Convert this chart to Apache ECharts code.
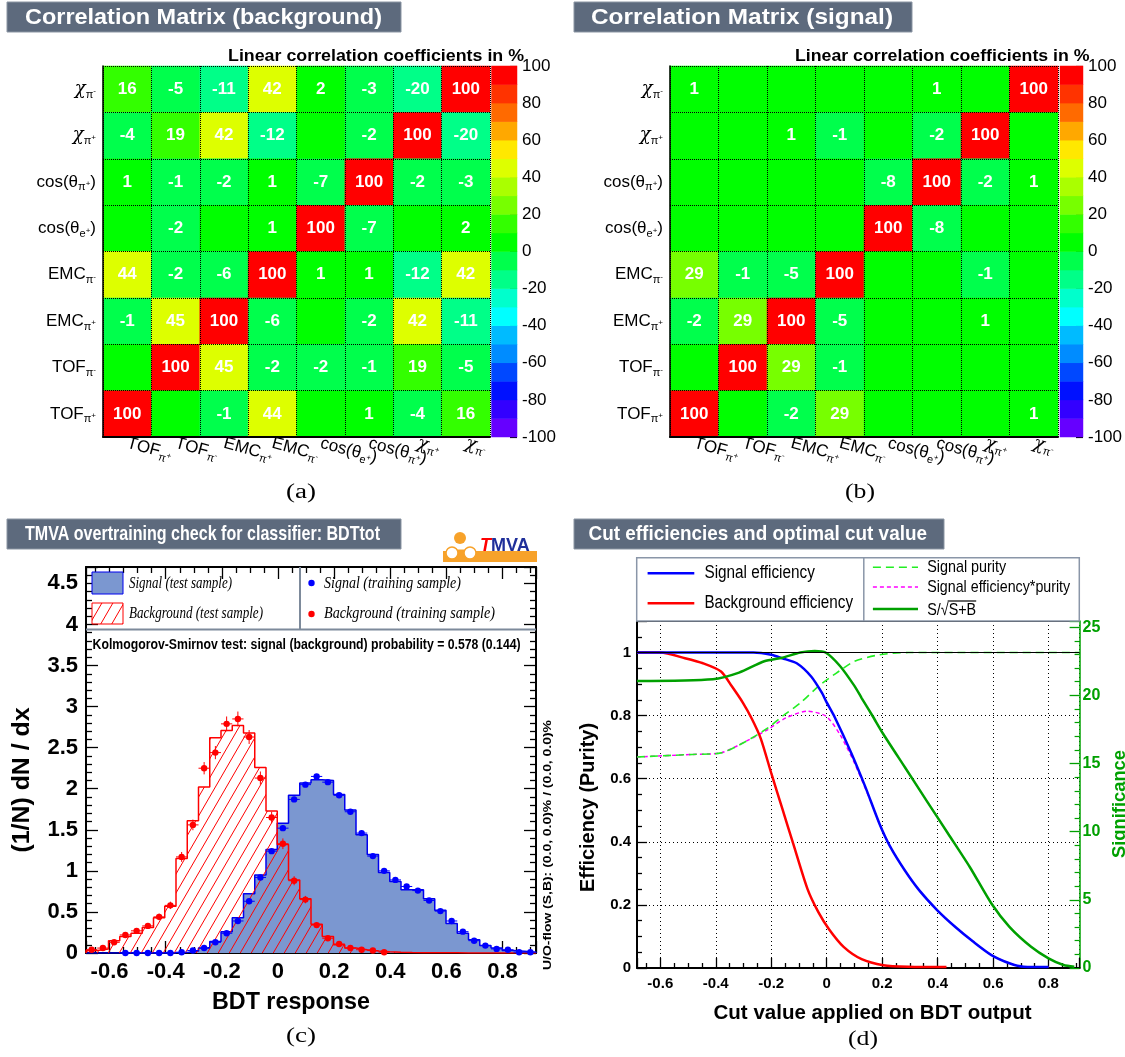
<!DOCTYPE html>
<html><head><meta charset="utf-8">
<script src="https://cdn.jsdelivr.net/npm/echarts@6/dist/echarts.min.js"></script>
<style>html,body{margin:0;padding:0;background:#fff}#c{width:1125px;height:1057px}</style>
</head><body><div id="c"></div>
<script>
// ================= DATA =================
// correlation matrices: variables in axis order (x left->right, y bottom->top)
const corrVars = ['TOF_π+','TOF_π-','EMC_π+','EMC_π-','cos(θ_e+)','cos(θ_π+)','χ_π+','χ_π-'];
// rows listed from top (χπ-) to bottom (TOFπ+), columns in corrVars order
const corrBkg = [
  [16,-5,-11,42,2,-3,-20,100],
  [-4,19,42,-12,0,-2,100,-20],
  [1,-1,-2,1,-7,100,-2,-3],
  [0,-2,0,1,100,-7,0,2],
  [44,-2,-6,100,1,1,-12,42],
  [-1,45,100,-6,0,-2,42,-11],
  [0,100,45,-2,-2,-1,19,-5],
  [100,0,-1,44,0,1,-4,16]
];
const corrSig = [
  [1,0,0,0,0,1,0,100],
  [0,0,1,-1,0,-2,100,0],
  [0,0,0,0,-8,100,-2,1],
  [0,0,0,0,100,-8,0,0],
  [29,-1,-5,100,0,0,-1,0],
  [-2,29,100,-5,0,0,1,0],
  [0,100,29,-1,0,0,0,0],
  [100,0,-2,29,0,0,0,1]
];
const corrLevels = [-100,-90,-80,-70,-60,-50,-40,-30,-20,-10,0,10,20,30,40,50,60,70,80,90,100];
const corrPalette = ['#6600ff','#3300ff','#0011ff','#0048ff','#008cff','#00bbff','#00ffff','#00ffcc','#00ff88','#00ff4c',
                     '#00ff00','#33ff00','#77ff00','#aaff00','#ddff00','#ffe800','#ffa800','#ff6a00','#ff3300','#ff0000'];

// BDT response histograms (40 bins)
const bdtBinLow = -0.684;
const bdtBinWidth = 0.04008;
const sigTest = [0,0,0,0.002,0.002,0.002,0.003,0.004,0.006,0.025,
                 0.06,0.14,0.26,0.43,0.72,0.95,1.26,1.58,1.92,2.07,
                 2.11,2.10,1.93,1.74,1.44,1.20,0.98,0.87,0.77,0.77,
                 0.66,0.52,0.36,0.24,0.16,0.09,0.06,0.03,0.02,0.01];
const bkgTest = [0.03,0.05,0.15,0.20,0.24,0.31,0.43,0.57,1.15,1.61,
                 2.02,2.62,2.71,2.77,2.68,2.26,1.73,1.32,0.89,0.66,
                 0.35,0.20,0.10,0.06,0.04,0.025,0.015,0.01,0.006,0.004,
                 0.003,0.002,0.002,0.001,0.001,0,0,0,0,0];
const sigTrain = [null,null,null,0,0,0,0,0,0.01,0.03,
                  0.06,0.13,0.24,0.39,0.63,0.92,1.24,1.52,1.87,2.05,
                  2.15,2.08,1.92,1.72,1.46,1.18,1.00,0.89,0.81,0.76,
                  0.64,0.51,0.39,0.26,0.15,0.09,0.05,0.04,0.01,0.01];
const sigTrainErr = [0,0,0,0,0,0,0,0,0.005,0.008,
                     0.01,0.012,0.015,0.02,0.02,0.025,0.03,0.03,0.03,0.03,
                     0.03,0.03,0.03,0.03,0.03,0.025,0.025,0.02,0.02,0.02,
                     0.02,0.02,0.015,0.015,0.01,0.01,0.008,0.008,0.005,0.005];
const bkgTrain = [0.04,0.06,0.13,0.22,0.27,0.33,0.44,0.58,1.17,1.56,
                  2.25,2.44,2.79,2.85,2.63,2.13,1.65,1.33,0.88,0.65,
                  0.34,0.18,0.11,0.06,0.04,0.03,0.01,null,null,null,
                  null,null,null,null,null,null,null,null,null,null];
const bkgTrainErr = [0.015,0.02,0.025,0.03,0.03,0.035,0.04,0.045,0.06,0.065,
                     0.075,0.08,0.09,0.09,0.085,0.08,0.07,0.065,0.055,0.045,
                     0.035,0.025,0.02,0.015,0.012,0.01,0.008,0,0,0,
                     0,0,0,0,0,0,0,0,0,0];

// cut efficiencies [cut value, value]
const sigEff = [[-0.684,1],[-0.3,1],[-0.264,1.0],[-0.2,0.993],[-0.16,0.982],[-0.108,0.966],[-0.056,0.924],[-0.017,0.872],
  [-0.002,0.845],[0.029,0.795],[0.087,0.685],[0.139,0.575],[0.191,0.456],[0.230,0.383],[0.282,0.309],[0.334,0.246],
  [0.399,0.183],[0.464,0.130],[0.529,0.083],[0.594,0.041],[0.659,0.015],[0.71,0.004],[0.80,0.003]];
const bkgEff = [[-0.684,1],[-0.6,1.0],[-0.511,0.982],[-0.446,0.966],[-0.381,0.94],[-0.342,0.893],[-0.303,0.842],
  [-0.27,0.79],[-0.238,0.728],[-0.199,0.615],[-0.160,0.505],[-0.121,0.395],[-0.069,0.25],[-0.030,0.177],
  [0.009,0.122],[0.061,0.067],[0.126,0.028],[0.204,0.009],[0.295,0.004],[0.432,0.003]];
const sigPurity = [[-0.684,0.669],[-0.485,0.677],[-0.381,0.682],[-0.29,0.719],[-0.212,0.761],[-0.16,0.798],
  [-0.095,0.840],[-0.030,0.893],[0.035,0.935],[0.100,0.972],[0.191,0.993],[0.295,1.0],[0.912,1.0]];
const sigEffPurity = [[-0.684,0.669],[-0.485,0.677],[-0.381,0.682],[-0.29,0.719],[-0.212,0.756],[-0.147,0.793],
  [-0.069,0.814],[-0.002,0.798],[0.048,0.740],[0.100,0.650],[0.165,0.515],[0.191,0.455],[0.230,0.383],
  [0.282,0.309],[0.334,0.246],[0.399,0.183],[0.464,0.130],[0.529,0.083],[0.594,0.041],[0.659,0.015],[0.71,0.004],[0.80,0.003]];
const significance = [[-0.684,21.05],[-0.41,21.18],[-0.316,21.66],[-0.225,22.5],[-0.16,22.76],[-0.095,23.14],
  [-0.043,23.25],[-0.004,23.14],[0.048,22.15],[0.100,20.69],[0.126,19.8],[0.165,18.5],[0.204,17.16],[0.282,14.72],
  [0.360,12.28],[0.438,9.85],[0.516,7.41],[0.594,4.73],[0.659,3.02],[0.737,1.56],[0.80,0.71],[0.854,0.22],[0.893,0.1]];

// ================= STYLE / HELPERS =================
const SANS = '"Liberation Sans", Arial, Helvetica, sans-serif';
const SERIF = '"Liberation Serif", "Times New Roman", serif';
const mctx = document.createElement('canvas').getContext('2d');
function measure(text, font){ mctx.font = font; return mctx.measureText(text).width; }
function fitText(text, x, y, width, font, o){
  o = o || {};
  const s = width / measure(text, font);
  return {type:'text', x:x, y:y, scaleX:s, rotation:o.rotation||0, z:100,
    style:{text:text, font:font, fill:o.fill||'#000', align:o.align||'left', verticalAlign:'middle',
           textAlign:o.align||'left', textVerticalAlign:'middle'}};
}
function richVar(name){
  const m = name.match(/^(.*)_(.)([+-])(\)?)$/);
  if(!m) return name;
  const base = m[1] === 'χ' ? '{g|χ}' : '{b|'+m[1]+'}';
  return base + '{s|'+m[2]+'}{p|'+m[3]+'}' + (m[4] ? '{b|'+m[4]+'}' : '');
}
const varRich = {
  b:{fontSize:17, fontFamily:SANS, color:'#000'},
  g:{fontSize:18, fontFamily:'"DejaVu Serif", serif', fontStyle:'italic', color:'#000'},
  s:{fontSize:11, fontFamily:SANS, color:'#000', padding:[11,0,0,0]},
  p:{fontSize:8, fontFamily:SANS, color:'#000', padding:[4,0,0,0]}
};
function hatchCanvas(){
  const c = document.createElement('canvas'); const w = 11, h = 19;
  c.width = w; c.height = h;
  const g = c.getContext('2d'); g.strokeStyle = '#ff0000'; g.lineWidth = 1;
  [-w,0,w].forEach(function(off){ g.beginPath(); g.moveTo(off - w, 2*h); g.lineTo(off + 2*w, -h); g.stroke(); });
  return c;
}
const hatch = {image: hatchCanvas(), repeat:'repeat'};

function cells(mat){
  const out = [];
  mat.forEach(function(row, r){ row.forEach(function(v, c){ out.push([c, corrVars.length-1-r, v]); }); });
  return out;
}
function histPath(vals){
  const pts = [[bdtBinLow, 0]];
  vals.forEach(function(v,i){ pts.push([bdtBinLow + i*bdtBinWidth, v]); });
  const end = bdtBinLow + vals.length*bdtBinWidth;
  pts.push([end, vals[vals.length-1]]); pts.push([end, 0]);
  return pts;
}
function errData(vals, errs){
  const out = [];
  vals.forEach(function(v,i){ if(v!==null) out.push([bdtBinLow + (i+0.5)*bdtBinWidth, v, errs[i]]); });
  return out;
}
function errRender(color){
  return function(params, api){
    const x = api.value(0), y = api.value(1), e = api.value(2);
    const c = api.coord([x,y]);
    const l = api.coord([x - bdtBinWidth/2, y]), r = api.coord([x + bdtBinWidth/2, y]);
    const ch = [
      {type:'line', shape:{x1:l[0], y1:c[1], x2:r[0], y2:c[1]}, style:{stroke:color, lineWidth:1}},
      {type:'circle', shape:{cx:c[0], cy:c[1], r:3.2}, style:{fill:color}}
    ];
    if(e > 0){
      const t = api.coord([x, y+e]), b = api.coord([x, Math.max(0, y-e)]);
      ch.push({type:'line', shape:{x1:c[0], y1:t[1], x2:c[0], y2:b[1]}, style:{stroke:color, lineWidth:1}});
    }
    return {type:'group', children:ch};
  };
}
function tickFmt(v){
  const k = v/0.2;
  if(Math.abs(k - Math.round(k)) > 1e-6) return '';
  return String(+v.toFixed(1));
}

// ================= AXES =================
function matrixX(grid){
  return {type:'category', gridIndex:grid, data:corrVars, z:10,
    axisLine:{onZero:false, lineStyle:{color:'#000', width:2}}, axisTick:{show:false},
    splitLine:{show:true, lineStyle:{color:'#000', type:'dotted', width:1}},
    axisLabel:{interval:0, rotate:-15, margin:6, formatter:richVar, rich:varRich}};
}
function matrixY(grid){
  return {type:'category', gridIndex:grid, data:corrVars, z:10,
    axisLine:{onZero:false, lineStyle:{color:'#000', width:1.5}}, axisTick:{show:false},
    splitLine:{show:true, lineStyle:{color:'#000', type:'dotted', width:1}},
    axisLabel:{interval:0, margin:7, formatter:richVar, rich:varRich}};
}
function cbValueY(grid){
  return {type:'value', gridIndex:grid, position:'right', min:-100, max:100, interval:20,
    axisLine:{show:false, onZero:false}, splitLine:{show:false},
    axisTick:{show:true, inside:true, length:7, lineStyle:{color:'#000', width:1.2}},
    axisLabel:{fontSize:17, fontFamily:SANS, color:'#000', margin:5}};
}
const tickStyle = {color:'#000', width:1.3};

const xAxis = [
  matrixX(0),
  {type:'category', gridIndex:1, data:['cb'], show:false},
  matrixX(2),
  {type:'category', gridIndex:3, data:['cb'], show:false},
  // hist bottom
  {type:'value', gridIndex:4, min:bdtBinLow, max:bdtBinLow+40*bdtBinWidth, splitNumber:8,
   axisLine:{onZero:false, lineStyle:{color:'#000', width:2}}, splitLine:{show:false},
   axisTick:{inside:true, length:12, lineStyle:tickStyle},
   minorTick:{show:true, splitNumber:4, length:6, lineStyle:tickStyle},
   axisLabel:{formatter:tickFmt, showMinLabel:false, showMaxLabel:false, fontSize:22, fontWeight:'bold', fontFamily:SANS, color:'#000', margin:8}},
  // hist top
  {type:'value', gridIndex:4, position:'top', min:bdtBinLow, max:bdtBinLow+40*bdtBinWidth, splitNumber:8,
   axisLine:{onZero:false, lineStyle:{color:'#000', width:2}}, splitLine:{show:false},
   axisTick:{inside:true, length:12, lineStyle:tickStyle},
   minorTick:{show:true, splitNumber:4, length:6, lineStyle:tickStyle},
   axisLabel:{show:false}},
  // eff bottom
  {type:'value', gridIndex:5, min:-0.684, max:0.912, splitNumber:8,
   axisLine:{onZero:false, lineStyle:{color:'#000', width:2}},
   splitLine:{show:true, lineStyle:{color:'#000', type:[1,3], width:1}},
   axisTick:{inside:true, length:10, lineStyle:tickStyle},
   minorTick:{show:true, splitNumber:4, length:5, lineStyle:tickStyle},
   axisLabel:{formatter:tickFmt, showMinLabel:false, showMaxLabel:false, fontSize:15, fontWeight:'bold', fontFamily:SANS, color:'#000', margin:8}},
  // eff top
  {type:'value', gridIndex:5, position:'top', min:-0.684, max:0.912,
   axisLine:{onZero:false, lineStyle:{color:'#000', width:1}}, axisTick:{show:false}, axisLabel:{show:false}, splitLine:{show:false}}
];
const yAxis = [
  matrixY(0),
  {type:'category', gridIndex:1, data:corrLevels.slice(0,20), show:false},
  cbValueY(1),
  matrixY(2),
  {type:'category', gridIndex:3, data:corrLevels.slice(0,20), show:false},
  cbValueY(3),
  // hist left
  {type:'value', gridIndex:4, min:0, max:4.7, interval:0.5,
   axisLine:{onZero:false, lineStyle:{color:'#000', width:2}}, splitLine:{show:false},
   axisTick:{inside:true, length:12, lineStyle:tickStyle},
   minorTick:{show:true, splitNumber:5, length:6, lineStyle:tickStyle},
   axisLabel:{showMaxLabel:false, fontSize:22, fontWeight:'bold', fontFamily:SANS, color:'#000', margin:8}},
  // hist right
  {type:'value', gridIndex:4, position:'right', min:0, max:4.7, interval:0.5,
   axisLine:{onZero:false, lineStyle:{color:'#000', width:2}}, splitLine:{show:false},
   axisTick:{inside:true, length:12, lineStyle:tickStyle},
   minorTick:{show:true, splitNumber:5, length:6, lineStyle:tickStyle},
   axisLabel:{show:false}},
  // eff left
  {type:'value', gridIndex:5, min:0, max:1.1, interval:0.2,
   axisLine:{onZero:false, lineStyle:{color:'#000', width:2}},
   splitLine:{show:true, lineStyle:{color:'#000', type:[1,3], width:1}},
   axisTick:{inside:true, length:10, lineStyle:tickStyle},
   minorTick:{show:true, splitNumber:4, length:5, lineStyle:tickStyle},
   axisLabel:{showMaxLabel:false, fontSize:15, fontWeight:'bold', fontFamily:SANS, color:'#000', margin:6}},
  // significance right
  {type:'value', gridIndex:5, position:'right', min:0, max:25.45, interval:5,
   axisLine:{onZero:false, lineStyle:{color:'#00a000', width:1.5}}, splitLine:{show:false},
   axisTick:{inside:true, length:10, lineStyle:{color:'#00a000', width:1.3}},
   minorTick:{show:true, splitNumber:5, length:5, lineStyle:{color:'#00a000', width:1.2}},
   axisLabel:{showMaxLabel:false, fontSize:16, fontWeight:'bold', fontFamily:SANS, color:'#00a000', margin:3}}
];

// ================= SERIES =================
const heatLabel = {show:true, color:'#fff', fontWeight:'bold', fontSize:17, fontFamily:SANS,
  formatter:function(p){ return p.value[2] === 0 ? '' : String(p.value[2]); }};
const cbData = corrLevels.slice(0,20).map(function(lv,i){ return [0, i, lv + 5]; });
const effLine = {type:'line', symbol:'none', smooth:0.25, xAxisIndex:6, yAxisIndex:8};
const series = [
  {type:'heatmap', xAxisIndex:0, yAxisIndex:0, data:cells(corrBkg), label:heatLabel, emphasis:{disabled:true}, itemStyle:{borderWidth:0}},
  {type:'heatmap', xAxisIndex:1, yAxisIndex:1, data:cbData, label:{show:false}, emphasis:{disabled:true}},
  {type:'heatmap', xAxisIndex:2, yAxisIndex:3, data:cells(corrSig), label:heatLabel, emphasis:{disabled:true}, itemStyle:{borderWidth:0}},
  {type:'heatmap', xAxisIndex:3, yAxisIndex:4, data:cbData, label:{show:false}, emphasis:{disabled:true}},
  // histograms
  {type:'line', xAxisIndex:4, yAxisIndex:6, data:histPath(sigTest), step:'end', symbol:'none',
   lineStyle:{color:'#0000ee', width:1.5}, areaStyle:{color:'#7b97d0', opacity:1}, z:2},
  {type:'line', xAxisIndex:4, yAxisIndex:6, data:histPath(bkgTest), step:'end', symbol:'none',
   lineStyle:{color:'#ff0000', width:1.5}, areaStyle:{color:hatch, opacity:1}, z:3},
  {type:'custom', xAxisIndex:4, yAxisIndex:6, data:errData(sigTrain, sigTrainErr), renderItem:errRender('#0000ff'), z:4},
  {type:'custom', xAxisIndex:4, yAxisIndex:6, data:errData(bkgTrain, bkgTrainErr), renderItem:errRender('#ff0000'), z:5},
  // efficiencies
  Object.assign({}, effLine, {data:sigEffPurity, lineStyle:{color:'#ff00ff', width:1.5, type:[4,3]}, z:2}),
  Object.assign({}, effLine, {data:sigPurity, lineStyle:{color:'#22ee22', width:1.6, type:[8,5]}, z:3,
   markLine:{silent:true, symbol:'none', label:{show:false}, lineStyle:{color:'#000', width:1, type:'solid'}, data:[{yAxis:1}]}}),
  Object.assign({}, effLine, {data:bkgEff, lineStyle:{color:'#ff0000', width:2.5}, z:4}),
  Object.assign({}, effLine, {data:sigEff, lineStyle:{color:'#0000ff', width:2.5}, z:4}),
  Object.assign({}, effLine, {data:significance, yAxisIndex:9, lineStyle:{color:'#00a000', width:2.5}, z:4})
];

const pieces = corrPalette.map(function(col, i){
  const p = {gte:corrLevels[i], color:col};
  if(i < corrPalette.length-1) p.lt = corrLevels[i+1]; else p.lte = corrLevels[i+1];
  return p;
});

// ================= GRAPHICS (titles, legends, axis titles) =================
const G = [];
function titleBox(x, y, w, h){
  G.push({type:'rect', shape:{x:x, y:y, width:w, height:h}, style:{fill:'#5d6a7d', stroke:'#8b95a3', lineWidth:1}, z:90});
}
titleBox(7, 2, 394, 30);   G.push(fitText('Correlation Matrix (background)', 25, 17.5, 357, 'bold 22px '+SANS, {fill:'#fff'}));
titleBox(574, 2, 338, 30); G.push(fitText('Correlation Matrix (signal)', 591, 17.5, 302, 'bold 22px '+SANS, {fill:'#fff'}));
titleBox(7, 519, 394, 30); G.push(fitText('TMVA overtraining check for classifier: BDTtot', 25, 534, 355, 'bold 21px '+SANS, {fill:'#fff'}));
titleBox(574, 519, 370, 30); G.push(fitText('Cut efficiencies and optimal cut value', 588.5, 534, 338.5, 'bold 21px '+SANS, {fill:'#fff'}));

G.push(fitText('Linear correlation coefficients in %', 228, 56, 296, 'bold 17px '+SANS));
G.push(fitText('Linear correlation coefficients in %', 795, 56, 294.5, 'bold 17px '+SANS));
G.push(fitText('(a)', 301, 493, 30, '20px '+SERIF, {align:'center'}));
G.push(fitText('(b)', 860, 493, 30, '20px '+SERIF, {align:'center'}));
G.push(fitText('(c)', 301, 1037, 30, '20px '+SERIF, {align:'center'}));
G.push(fitText('(d)', 863, 1040, 30, '20px '+SERIF, {align:'center'}));

// TMVA logo
G.push({type:'rect', shape:{x:443, y:551, width:94, height:11}, style:{fill:'#f7a22a'}, z:90});
G.push({type:'circle', shape:{cx:460, cy:538, r:6}, style:{fill:'#f7a22a'}, z:91});
G.push({type:'line', shape:{x1:452, y1:552, x2:470, y2:552}, style:{stroke:'#f7a22a', lineWidth:5}, z:91});
G.push({type:'circle', shape:{cx:452, cy:553, r:6}, style:{fill:'#fff', stroke:'#f7a22a', lineWidth:1.5}, z:92});
G.push({type:'circle', shape:{cx:470, cy:553, r:6}, style:{fill:'#fff', stroke:'#f7a22a', lineWidth:1.5}, z:92});
G.push({type:'text', x:480, y:546, z:93, style:{text:'{t|T}{m|MVA}', verticalAlign:'middle', textVerticalAlign:'middle',
  rich:{t:{fill:'#ff0000', color:'#ff0000', font:'italic bold 18px '+SANS}, m:{fill:'#1f2f9a', color:'#1f2f9a', font:'bold 18px '+SANS}}}});

// histogram legend
G.push({type:'line', shape:{x1:86, y1:629.5, x2:536, y2:629.5}, style:{stroke:'#7d8a9b', lineWidth:2}, z:90});
G.push({type:'line', shape:{x1:300, y1:567, x2:300, y2:629}, style:{stroke:'#7d8a9b', lineWidth:2}, z:90});
G.push({type:'rect', shape:{x:92, y:572, width:31, height:22}, style:{fill:'#7b97d0', stroke:'#0000ee', lineWidth:1}, z:91});
G.push({type:'rect', shape:{x:92, y:603, width:31, height:21}, style:{fill:hatch, stroke:'#ff0000', lineWidth:1}, z:91});
G.push(fitText('Signal (test sample)', 129, 584, 103, 'italic 17px '+SERIF));
G.push(fitText('Background (test sample)', 129, 614, 134, 'italic 17px '+SERIF));
G.push({type:'circle', shape:{cx:311.5, cy:583, r:3.2}, style:{fill:'#0000ff'}, z:91});
G.push({type:'circle', shape:{cx:311.5, cy:614, r:3.2}, style:{fill:'#ff0000'}, z:91});
G.push(fitText('Signal (training sample)', 324, 584, 137, 'italic 17px '+SERIF));
G.push(fitText('Background (training sample)', 324, 614, 171, 'italic 17px '+SERIF));
G.push(fitText('Kolmogorov-Smirnov test: signal (background) probability = 0.578 (0.144)', 92.6, 645, 428, 'bold 14px '+SANS));
G.push(fitText('U/O-flow (S,B): (0.0, 0.0)% / (0.0, 0.0)%', 547.5, 845, 250, 'bold 11px '+SANS, {align:'center', rotation:Math.PI/2}));
G.push(fitText('(1/N) dN / dx', 22, 780, 145, 'bold 24px '+SANS, {align:'center', rotation:Math.PI/2}));
G.push(fitText('BDT response', 291, 1003, 158, 'bold 23px '+SANS, {align:'center'}));

// efficiency legend
G.push({type:'rect', shape:{x:636.7, y:557.7, width:442.6, height:63.3}, style:{fill:'#fff', stroke:'#8a96a8', lineWidth:1.5}, z:90});
G.push({type:'line', shape:{x1:863.8, y1:557.7, x2:863.8, y2:621}, style:{stroke:'#8a96a8', lineWidth:1.5}, z:91});
G.push({type:'line', shape:{x1:647.6, y1:573.3, x2:694.3, y2:573.3}, style:{stroke:'#0000ff', lineWidth:2.5}, z:91});
G.push({type:'line', shape:{x1:647.6, y1:603.3, x2:694.3, y2:603.3}, style:{stroke:'#ff0000', lineWidth:2.5}, z:91});
G.push(fitText('Signal efficiency', 704.4, 573.3, 110.5, '18px '+SANS));
G.push(fitText('Background efficiency', 704.4, 603.3, 148.6, '18px '+SANS));
G.push({type:'line', shape:{x1:872.9, y1:567.3, x2:918, y2:567.3}, style:{stroke:'#22ee22', lineWidth:1.6, lineDash:[8,5]}, z:91});
G.push({type:'line', shape:{x1:872.9, y1:587, x2:918, y2:587}, style:{stroke:'#ff00ff', lineWidth:1.5, lineDash:[4,3]}, z:91});
G.push({type:'line', shape:{x1:872.9, y1:609, x2:918, y2:609}, style:{stroke:'#00a000', lineWidth:2.5}, z:91});
G.push(fitText('Signal purity', 927.2, 567.3, 79, '17px '+SANS));
G.push(fitText('Signal efficiency*purity', 927.2, 587, 143, '17px '+SANS));
(function(){
  const f = '17px '+SANS, full = 'S/√S+B', w = 49;
  const s = w / measure(full, f);
  const x0 = 927.2 + measure('S/√', f)*s - 1;
  G.push(fitText(full, 927.2, 610, w, f));
  G.push({type:'line', shape:{x1:x0, y1:601, x2:927.2+w, y2:601}, style:{stroke:'#000', lineWidth:1.2}, z:101});
})();
G.push(fitText('Efficiency (Purity)', 588.5, 807.5, 169, 'bold 20px '+SANS, {align:'center', rotation:Math.PI/2}));
G.push(fitText('Significance', 1120, 804, 108, 'bold 18px '+SANS, {align:'center', rotation:Math.PI/2, fill:'#00a000'}));
G.push(fitText('Cut value applied on BDT output', 872.5, 1013, 318, 'bold 20px '+SANS, {align:'center'}));

const option = {
  animation:false,
  backgroundColor:'#fff',
  textStyle:{fontFamily:SANS},
  grid:[
    {left:103, top:66, width:387, height:371},
    {left:491.5, top:66, width:25.5, height:371},
    {left:670, top:66, width:388, height:371},
    {left:1060, top:66, width:25, height:371},
    {left:86, top:567, width:450, height:386},
    {left:637, top:621, width:442.6, height:347}
  ],
  xAxis:xAxis,
  yAxis:yAxis,
  visualMap:{type:'piecewise', show:false, seriesIndex:[0,1,2,3], dimension:2, pieces:pieces},
  series:series,
  graphic:{elements:G}
};
const chart = echarts.init(document.getElementById('c'), null, {renderer:'canvas'});
chart.setOption(option);
</script></body></html>
